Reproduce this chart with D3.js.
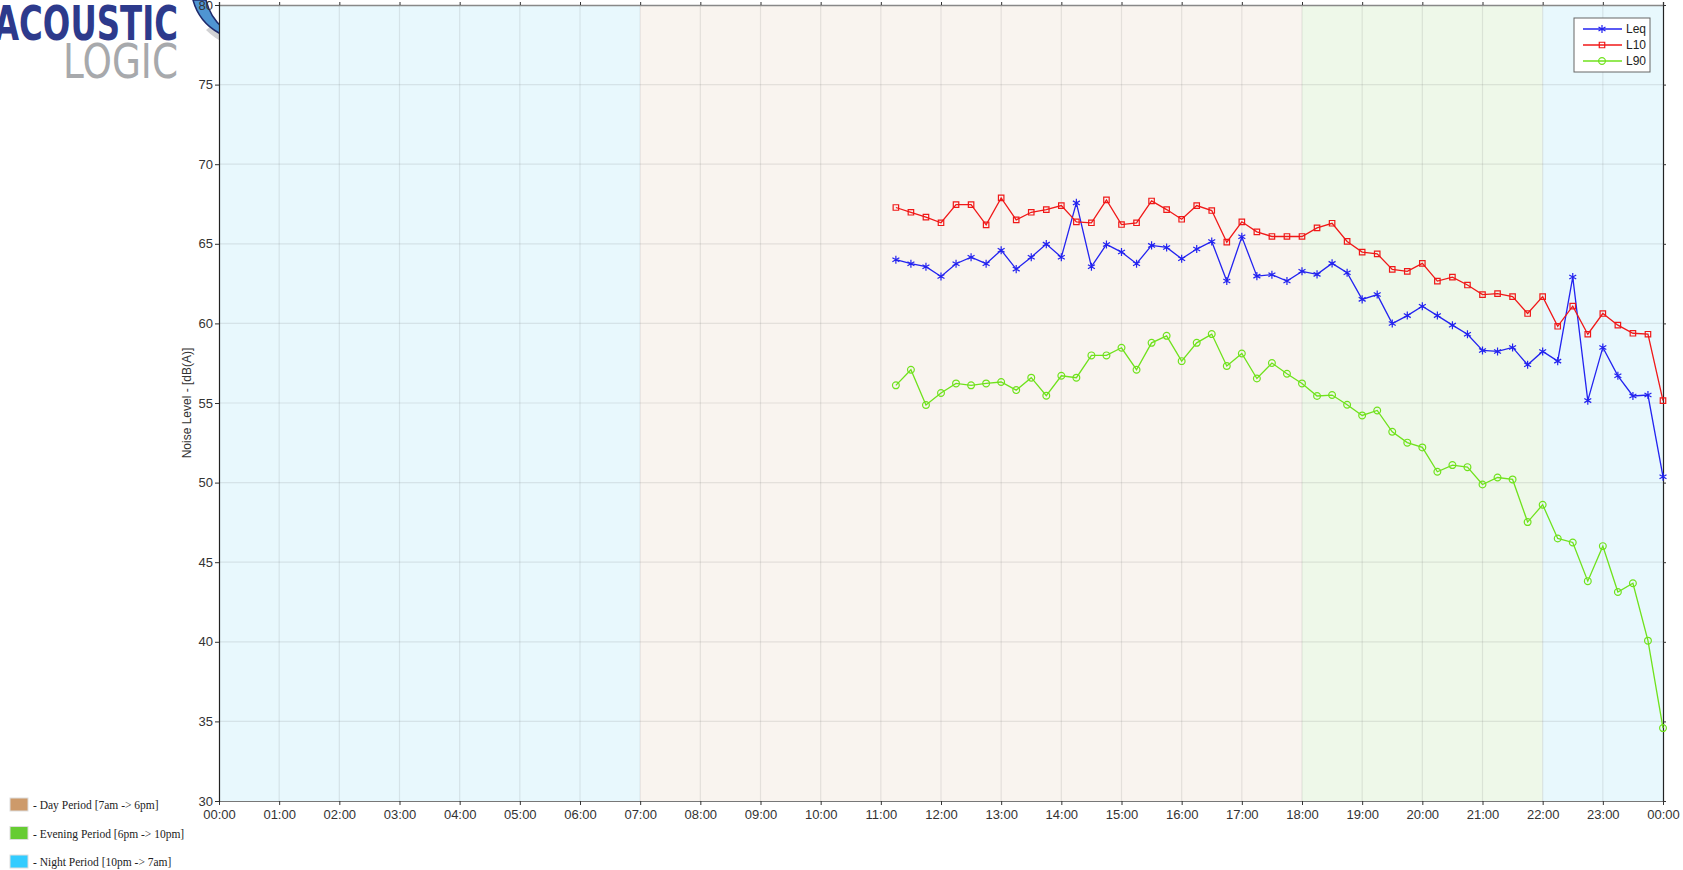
<!DOCTYPE html>
<html>
<head>
<meta charset="utf-8">
<script src="https://cdn.jsdelivr.net/npm/d3@7"></script>
<style>
  html, body { margin: 0; padding: 0; background: #fff; }
  svg { display: block; }
</style>
</head>
<body>
<div id="chart"></div>
<script>
// 15-minute readings, 11:15 -> 24:00
const times = ['11:15', '11:30', '11:45', '12:00', '12:15', '12:30', '12:45', '13:00', '13:15', '13:30', '13:45',
  '14:00', '14:15', '14:30', '14:45', '15:00', '15:15', '15:30', '15:45', '16:00', '16:15', '16:30', '16:45',
  '17:00', '17:15', '17:30', '17:45', '18:00', '18:15', '18:30', '18:45', '19:00', '19:15', '19:30', '19:45',
  '20:00', '20:15', '20:30', '20:45', '21:00', '21:15', '21:30', '21:45', '22:00', '22:15', '22:30', '22:45',
  '23:00', '23:15', '23:30', '23:45', '24:00'];

const leq = [64.0, 63.75, 63.56, 62.95, 63.75, 64.16, 63.75, 64.6, 63.41, 64.16, 64.98, 64.16, 67.57, 63.56,
  64.96, 64.48, 63.75, 64.9, 64.77, 64.06, 64.67, 65.15, 62.66, 65.44, 62.97, 63.06, 62.66,
  63.27, 63.08, 63.77, 63.18, 61.51, 61.81, 59.99, 60.49, 61.08, 60.49, 59.89, 59.32, 58.3, 58.24, 58.49,
  57.4, 58.24, 57.63, 62.91, 55.15, 58.49, 56.71, 55.44, 55.5, 50.37];

const l10 = [67.28, 66.98, 66.67, 66.32, 67.46, 67.46, 66.19, 67.88, 66.5, 66.98, 67.15, 67.4, 66.38, 66.32,
  67.76, 66.21, 66.32, 67.69, 67.15, 66.54, 67.4, 67.09, 65.1, 66.38, 65.75, 65.46, 65.46,
  65.46, 66.0, 66.29, 65.15, 64.48, 64.37, 63.39, 63.27, 63.77, 62.66, 62.91, 62.41, 61.81, 61.87, 61.68,
  60.62, 61.68, 59.82, 61.08, 59.32, 60.62, 59.89, 59.38, 59.32, 55.15];

const l90 = [56.11, 57.09, 54.87, 55.63, 56.23, 56.11, 56.23, 56.32, 55.81, 56.59, 55.46, 56.71, 56.59, 57.99,
  57.99, 58.47, 57.09, 58.78, 59.22, 57.63, 58.78, 59.33, 57.32, 58.11, 56.54, 57.51, 56.84,
  56.23, 55.44, 55.5, 54.89, 54.22, 54.53, 53.19, 52.51, 52.21, 50.68, 51.1, 50.97, 49.88, 50.32, 50.2,
  47.52, 48.61, 46.49, 46.24, 43.81, 46.01, 43.13, 43.68, 40.07, 34.58];

const yTicks = [30, 35, 40, 45, 50, 55, 60, 65, 70, 75, 80];
const xTickLabels = ['00:00', '01:00', '02:00', '03:00', '04:00', '05:00', '06:00', '07:00', '08:00', '09:00',
  '10:00', '11:00', '12:00', '13:00', '14:00', '15:00', '16:00', '17:00', '18:00', '19:00', '20:00', '21:00',
  '22:00', '23:00', '00:00'];

const periods = [
  { label: 'night', from: 0, to: 7 },
  { label: 'day', from: 7, to: 18 },
  { label: 'evening', from: 18, to: 22 },
  { label: 'night', from: 22, to: 24 },
];
const periodLegend = [
  { key: 'day', text: '- Day Period [7am -> 6pm]' },
  { key: 'evening', text: '- Evening Period [6pm -> 10pm]' },
  { key: 'night', text: '- Night Period [10pm -> 7am]' },
];

const BAND_FILL = { night: '#e8f8fd', day: '#f9f4ef', evening: '#eef8e9' };
const SWATCH = { day: '#cd9a6a', evening: '#66cc33', night: '#33ccff' };
const SANS = 'Liberation Sans, Arial, sans-serif';

const W = 1683, H = 870;
const margin = { top: 5, right: 20, bottom: 69, left: 219 };
const width = W - margin.left - margin.right;
const height = H - margin.top - margin.bottom;

const toHours = s => { const [h, m] = s.split(':').map(Number); return h + m / 60; };
const hours = times.map(toHours);

const svg = d3.select('#chart').append('svg').attr('width', W).attr('height', H);

// logo (behind the plot)
const logo = svg.append('g');
logo.append('path')
  .attr('d', 'M211,26 Q220,36 236,40 L226,44 Q214,38 206,30 Z')
  .attr('fill', '#d0d1d3');
logo.append('path')
  .attr('d', 'M193,0 L206,0 Q210,17 223,28 L219,33 Q199,22 193,0 Z')
  .attr('fill', '#4f95d2').attr('stroke', '#1f2a6b').attr('stroke-width', 1.5);
logo.append('text').attr('x', -6).attr('y', 40)
  .attr('textLength', 184).attr('lengthAdjust', 'spacingAndGlyphs')
  .attr('font-family', 'DejaVu Sans, sans-serif').attr('font-weight', 'bold')
  .attr('font-size', 48).attr('fill', '#2d3a8c').text('ACOUSTIC');
logo.append('text').attr('x', 63).attr('y', 78)
  .attr('textLength', 115).attr('lengthAdjust', 'spacingAndGlyphs')
  .attr('font-family', 'DejaVu Sans, sans-serif')
  .attr('font-size', 48).attr('fill', '#a7a9ac').text('LOGIC');

const g = svg.append('g').attr('transform', `translate(${margin.left},${margin.top})`);

const x = d3.scaleLinear().domain([0, 24]).range([0, width]);
const y = d3.scaleLinear().domain([30, 80]).range([height, 0]);

// period bands
g.selectAll('.band').data(periods).join('rect')
  .attr('x', d => x(d.from)).attr('width', d => x(d.to) - x(d.from))
  .attr('y', 0).attr('height', height)
  .attr('fill', d => BAND_FILL[d.label]);

// grid
const hourTicks = d3.range(0, 25);
g.append('g').selectAll('line').data(hourTicks.slice(1, 24)).join('line')
  .attr('x1', d => x(d)).attr('x2', d => x(d)).attr('y1', 0).attr('y2', height)
  .attr('stroke', 'rgba(60,60,60,0.11)').attr('stroke-width', 1.2);
g.append('g').selectAll('line').data(yTicks.slice(1, -1)).join('line')
  .attr('x1', 0).attr('x2', width).attr('y1', d => y(d)).attr('y2', d => y(d))
  .attr('stroke', 'rgba(60,60,60,0.11)').attr('stroke-width', 1.2);

// axes
const fmtX = (d, i) => xTickLabels[i];
g.append('g').attr('transform', `translate(0,${height})`)
  .call(d3.axisBottom(x).tickValues(hourTicks).tickFormat(fmtX).tickSize(4).tickPadding(5))
  .call(a => a.select('.domain').attr('stroke', '#777'))
  .call(a => a.selectAll('.tick line').attr('stroke', '#333'))
  .call(a => a.selectAll('.tick text').attr('fill', '#333').attr('font-size', 13).attr('font-family', SANS));
g.append('g')
  .call(d3.axisTop(x).tickValues(hourTicks).tickFormat('').tickSize(3))
  .call(a => a.select('.domain').attr('stroke', '#888').attr('stroke-width', 1.5))
  .call(a => a.selectAll('.tick line').attr('stroke', '#333'));
g.append('g')
  .call(d3.axisLeft(y).tickValues(yTicks).tickSize(4).tickPadding(2))
  .call(a => a.select('.domain').attr('stroke', '#222').attr('stroke-width', 1.2))
  .call(a => a.selectAll('.tick line').attr('stroke', '#333'))
  .call(a => a.selectAll('.tick text').attr('fill', '#333').attr('font-size', 13).attr('font-family', SANS));
g.append('g').attr('transform', `translate(${width},0)`)
  .call(d3.axisRight(y).tickValues(yTicks).tickFormat('').tickSize(3))
  .call(a => a.select('.domain').attr('stroke', '#222').attr('stroke-width', 1.2))
  .call(a => a.selectAll('.tick line').attr('stroke', '#333'));

// y label
svg.append('text')
  .attr('transform', `translate(191,${margin.top + height / 2}) rotate(-90)`)
  .attr('text-anchor', 'middle')
  .attr('font-family', 'Liberation Sans Narrow, Arial Narrow, Liberation Sans, sans-serif')
  .attr('font-size', 12).attr('fill', '#333')
  .text('Noise Level - [dB(A)]');

// series
const series = [
  { name: 'Leq', values: leq, color: '#2323f0', symbol: d3.symbolAsterisk, size: 45 },
  { name: 'L10', values: l10, color: '#f01818', symbol: d3.symbolSquare, size: 30 },
  { name: 'L90', values: l90, color: '#6fe21c', symbol: d3.symbolCircle, size: 36 },
];

const line = d3.line().x(d => x(d[0])).y(d => y(d[1]));

series.forEach(s => {
  const pts = hours.map((h, i) => [h, s.values[i]]);
  g.append('path').datum(pts)
    .attr('fill', 'none').attr('stroke', s.color).attr('stroke-width', 1.3).attr('d', line);
  g.append('g').selectAll('path').data(pts).join('path')
    .attr('transform', d => `translate(${x(d[0])},${y(d[1])})`)
    .attr('d', d3.symbol(s.symbol, s.size))
    .attr('fill', 'none').attr('stroke', s.color).attr('stroke-width', 1.2);
});

// series legend (top right)
const lg = svg.append('g').attr('transform', 'translate(1574,18)');
lg.append('rect').attr('width', 76).attr('height', 54)
  .attr('fill', '#fff').attr('stroke', '#666').attr('stroke-width', 1);
series.forEach((s, i) => {
  const yy = 11 + i * 16;
  lg.append('line').attr('x1', 9).attr('x2', 48).attr('y1', yy).attr('y2', yy)
    .attr('stroke', s.color).attr('stroke-width', 1.3);
  lg.append('path').attr('transform', `translate(28,${yy})`)
    .attr('d', d3.symbol(s.symbol, s.size)).attr('fill', 'none')
    .attr('stroke', s.color).attr('stroke-width', 1.2);
  lg.append('text').attr('x', 52).attr('y', yy).attr('dy', '0.36em')
    .attr('font-family', SANS).attr('font-size', 12).attr('fill', '#222').text(s.name);
});

// period legend (bottom left)
const pl = svg.append('g').attr('transform', 'translate(10,798)');
periodLegend.forEach((p, i) => {
  const yy = i * 28.5;
  pl.append('rect').attr('x', 0).attr('y', yy).attr('width', 18).attr('height', 13)
    .attr('fill', SWATCH[p.key]).attr('stroke', '#ddd').attr('stroke-width', 1);
  pl.append('text').attr('x', 23).attr('y', yy + 7).attr('dy', '0.35em')
    .attr('font-family', 'Liberation Serif, DejaVu Serif, serif').attr('font-size', 11.5)
    .attr('fill', '#222').text(p.text);
});
</script>
</body>
</html>
